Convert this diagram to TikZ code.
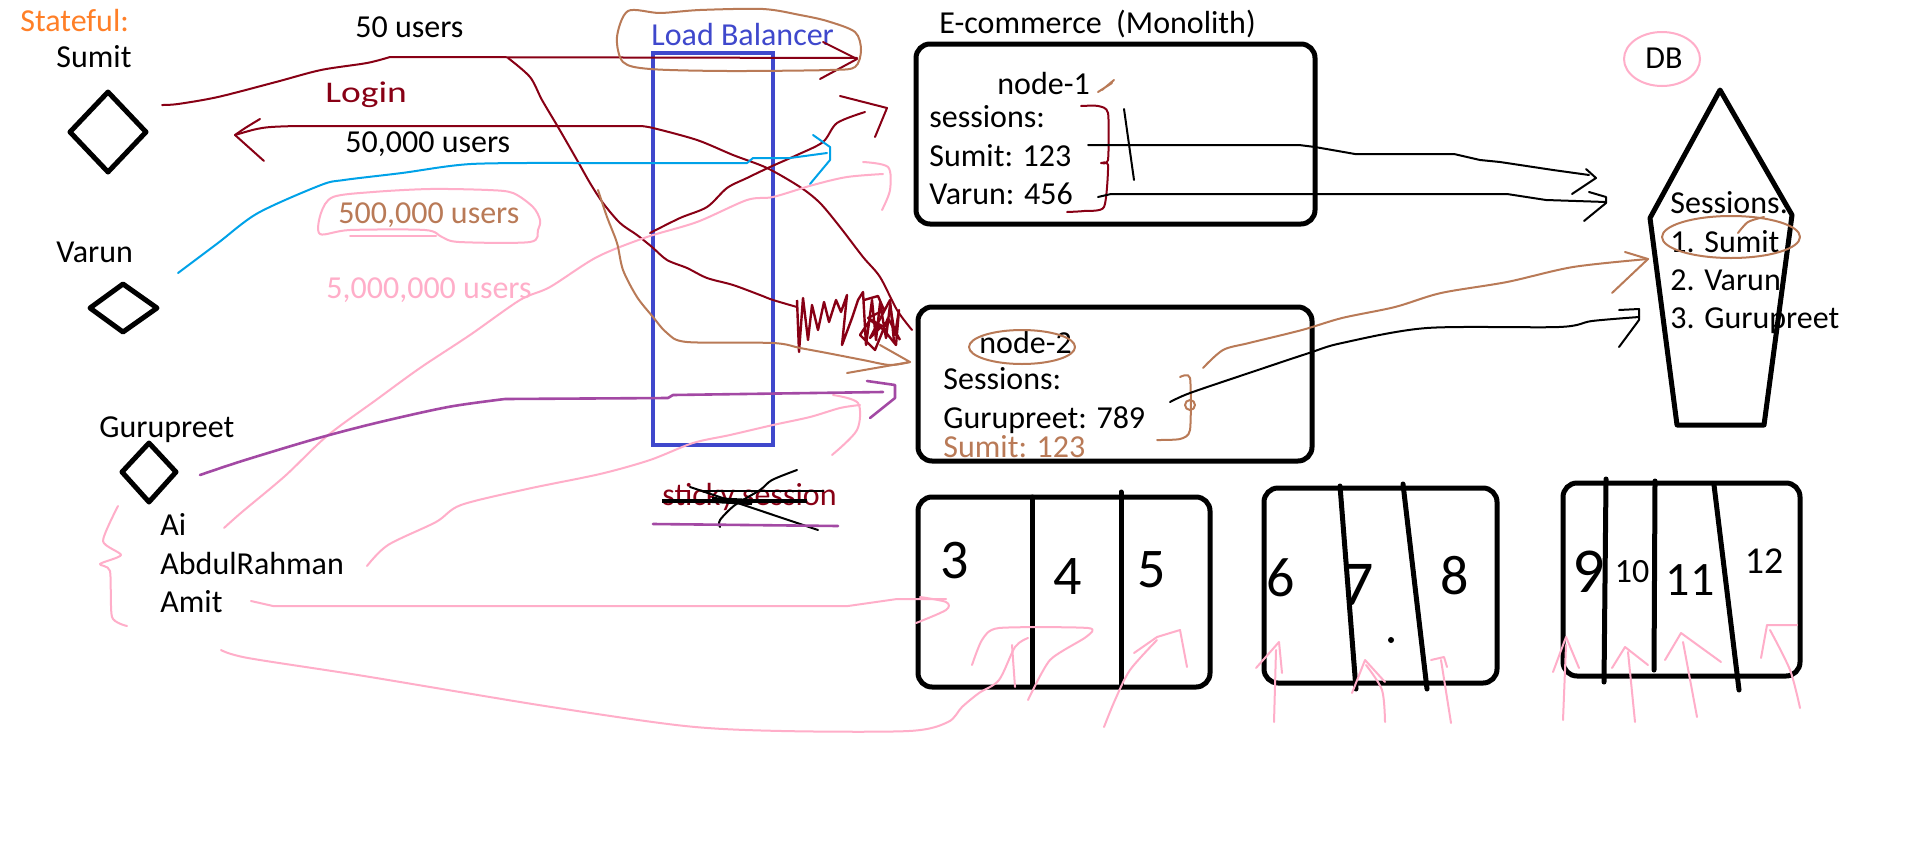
\documentclass[tikz,border=0pt]{standalone}
\usepackage{fontspec}
\setmainfont{Carlito}
\definecolor{dred}{HTML}{880015}
\definecolor{lblue}{HTML}{00A2E8}
\definecolor{pinkc}{HTML}{FFAEC9}
\definecolor{brownc}{HTML}{B97A57}
\definecolor{purp}{HTML}{A349A4}
\definecolor{indig}{HTML}{3F48CC}
\definecolor{orng}{HTML}{FF7F27}
\begin{document}
\begin{tikzpicture}[x=0.5pt,y=-0.5pt,
  txt/.style={anchor=base west,inner sep=0pt,font=\fontsize{16}{19}\selectfont},
  num/.style={anchor=center,inner sep=0pt,font=\fontsize{28}{30}\selectfont},
  pen/.style={line width=1pt,line cap=round,line join=round},
  heavybox/.style={draw,line width=2.5pt,rounded corners=7pt},
  heavy/.style={line width=2.5pt,line join=round,line cap=round}]
\useasboundingbox (0,0) rectangle (1914,867);
\fill[white] (0,0) rectangle (1914,867);

% ---------- load balancer ----------
\draw[indig,line width=2.2pt] (653,53) rectangle (773,445);

% ---------- left side users ----------
\node[txt,text=orng] (stateful) at (20,32) {Stateful:};
\node[txt] (sumit) at (56,67) {Sumit};
\node[txt] (varun) at (56,262) {Varun};
\node[txt] (guru) at (99,437) {Gurupreet};
\node[txt] (ai) at (160,535) {Ai};
\node[txt] (abdul) at (160,574) {AbdulRahman};
\node[txt] (amit) at (160,612) {Amit};
\draw[heavy] (108,92) -- (146,132) -- (108,172) -- (70,132) -- cycle;
\draw[heavy] (123,284) -- (157,308) -- (123,332) -- (90,308) -- cycle;
\draw[heavy] (149,443) -- (176,472) -- (149,502) -- (122,472) -- cycle;

\node[txt] (u50) at (355,37) {50 users};
\node[txt] (u50k) at (345,152) {50,000 users};
\node[txt,text=brownc] (u500k) at (338,223) {500,000 users};
\node[txt,text=pinkc] (u5m) at (326,298) {5,000,000 users};
\node[txt,text=indig] (lbl) at (651,45) {Load Balancer};
\node[anchor=base west,inner sep=0pt,text=dred,font=\fontsize{15}{18}\selectfont] (login) at (325,102) {\scalebox{1.25}[1]{Login}};

% ---------- monolith nodes ----------
\node[txt] (ecom) at (939,33) {E-commerce~ (Monolith)};
\draw[heavybox] (916,44) rectangle (1315,224);
\node[txt] (n1) at (997,94) {node-1};
\node[txt] (n1s) at (929,127) {sessions:};
\node[txt] (n1a) at (929,166) {Sumit: 123};
\node[txt] (n1b) at (929,204) {Varun: 456};
\draw[heavybox] (918,307) rectangle (1312,461);
\node[txt] (n2) at (979,353) {node-2};
\node[txt] (n2s) at (943,389) {Sessions:};
\node[txt] (n2a) at (943,428) {Gurupreet: 789};
\node[txt,text=brownc] (n2b) at (943,457) {Sumit: 123};

% ---------- DB ----------
\draw[heavy] (1720,90) -- (1792,215) -- (1764,425) -- (1677,425) -- (1650,218) -- cycle;
\node[txt] (db) at (1645,68) {DB};
\node[txt] (dbs) at (1670,213) {Sessions:};
\node[txt] (db1) at (1670,252) {1. Sumit};
\node[txt] (db2) at (1670,290) {2. Varun};
\node[txt] (db3) at (1670,328) {3. Gurupreet};
\draw[pen,pinkc] (1662,59) ellipse [x radius=19pt, y radius=13.5pt];

% ---------- sticky session ----------
\node[txt,text=dred] (sticky) at (662,505) {sticky session};
\draw[line width=2.2pt] (662,501) -- (807,501);
\draw[line width=1.4pt] (703,491) -- (824,491);
\draw[line width=3pt] (712,500) -- (752,502);
\draw[pen] (690,487) -- (818,530);
\draw[pen] plot[smooth,tension=0.5] coordinates {(797,470)(772,480)(760,490)(735,505)(720,520)(720,527)};
\draw[pen,purp,line width=1.3pt] (653,524) -- (838,526);

% ---------- bottom boxes ----------
\draw[heavybox] (918,497) rectangle (1210,687);
\draw[heavy] (1032,497) -- (1032,687);
\draw[heavy] (1121,492) -- (1121,687);
\node[num] (c3) at (955,561) {3};
\node[num] (c4) at (1068,577) {4};
\node[num] (c5) at (1152,570) {5};

\draw[heavybox] (1264,488) rectangle (1497,683);
\draw[heavy] (1340,486) -- (1356,689);
\draw[heavy] (1403,484) -- (1427,689);
\node[num] (c6) at (1281,578) {6};
\node[num,font=\fontsize{32}{34}\selectfont] (c7) at (1358,585) {7};
\fill (1391,640) circle (1.5pt);
\node[num] (c8) at (1455,576) {8};

\draw[heavybox] (1563,483) rectangle (1800,676);
\draw[heavy] (1606,479) -- (1604,682);
\draw[heavy] (1655,481) -- (1654,670);
\draw[heavy] (1714,485) -- (1739,690);
\node[num,font=\fontsize{32}{34}\selectfont] (c9) at (1589,572) {9};
\node[num,font=\fontsize{17}{18}\selectfont] (c10) at (1632,572) {10};
\node[num,font=\fontsize{24}{26}\selectfont] (c11) at (1690,580) {11};
\node[num,font=\fontsize{19}{20}\selectfont] (c12) at (1764,561) {12};

% ---------- dark red strokes ----------
\draw[pen,dred] plot[smooth,tension=0.5] coordinates {(162,105)(178,104)(218,97)(276,82)(321,70)(367,63)(390,57)} -- (857,58);
\draw[pen,dred] (823,42) -- (857,59) -- (820,79);
\draw[pen,dred] plot[smooth,tension=0.5] coordinates {(912,330)(897,310)(880,277)(863,257)(840,227)(820,203)(800,187)(767,168)(733,155)(697,140)(653,128)(640,126)} -- (296,126) .. controls (262,127) .. (235,135);
\draw[pen,dred] (260,119) .. controls (245,128) .. (235,135) .. controls (250,148) .. (264,161);
\draw[pen,dred] plot[smooth,tension=0.5] coordinates {(508,58)(530,77)(542,100)(558,127)(577,160)(590,183)(603,203)(620,223)(637,235)(652,247)(667,260)(687,268)(707,278)(733,285)(760,295)(773,300)(797,307)};
\draw[dred,line width=1.2pt,line join=round] (797,300)--(799,352)--(803,298)--(808,340)--(812,305)--(818,330)--(824,302)--(829,322)--(836,300)--(841,312)--(847,295)--(842,345)--(852,318)--(858,300)--(863,292)--(866,345)--(872,300)--(876,340)--(880,303)--(886,338)--(890,305)--(895,335)--(899,310)--(896,345)--(884,330)--(870,320)--(860,335)--(875,350)--(888,318)--(900,340);
\draw[dred,line width=1.2pt,line join=round] (864,300)--(878,296)--(884,310)--(868,318)--(882,326)--(870,338)--(890,300)--(894,342);
\draw[pen,dred] plot[smooth,tension=0.5] coordinates {(650,233)(680,218)(707,207)(727,188)(747,178)(770,167)(797,155)(823,142)(837,123)(865,112)};
\draw[pen,dred] (840,96) -- (887,108) -- (875,137);
% brace near node-1
\draw[pen,dred] plot[smooth,tension=0.4] coordinates {(1081,106)(1098,106)(1108,113)(1108,160)(1101,163)(1108,165)(1104,207)(1084,211)(1067,212)};

% ---------- light blue ----------
\draw[pen,lblue] plot[smooth,tension=0.5] coordinates {(178,273)(218,243)(258,213)(321,185)(344,180)(402,173)(471,164)(574,163)} -- (747,163) -- (753,158) -- (790,158) -- (827,153);
\draw[pen,lblue] (813,135) -- (830,147) -- (830,160) -- (810,184);

% ---------- pink ----------
\draw[pen,pinkc] plot[smooth cycle,tension=0.5] coordinates {(321,213)(333,197)(373,192)(430,189)(488,190)(513,193)(533,207)(540,220)(538,230)(530,242)(459,242)(442,237)(425,230)(350,230)(320,234)};
\draw[pen,pinkc] (350,236) -- (436,236);
\draw[pen,pinkc] plot[smooth,tension=0.5] coordinates {(224,528)(242,512)(285,476)(327,436)(376,400)(420,368)(470,335)(520,300)(550,287)(597,257)(647,237)(697,222)(747,200)(773,197)(813,185)(847,177)(883,174)};
\draw[pen,pinkc] plot[smooth,tension=0.5] coordinates {(863,162)(888,167)(890,190)(882,210)};
\draw[pen,pinkc] plot[smooth,tension=0.5] coordinates {(367,566)(388,545)(436,522)(461,505)(527,489)(600,474)(650,460)(693,443)(730,435)(773,425)(810,417)(840,408)(860,405)};
\draw[pen,pinkc] plot[smooth,tension=0.5] coordinates {(833,395)(858,403)(857,430)(832,455)};
\draw[pen,pinkc] (251,601) -- (273,606) -- (848,606) -- (897,599) -- (946,599);
\draw[pen,pinkc] plot[smooth,tension=0.5] coordinates {(920,597)(946,602)(946,610)(916,623)};
\draw[pen,pinkc] plot[smooth,tension=0.5] coordinates {(221,650)(248,658)(364,676)(545,706)(685,726)(782,731)(909,731)(948,722)(962,707)(979,693)(999,680)(1015,647)(1028,638)};
\draw[pen,pinkc] plot[smooth,tension=0.4] coordinates {(118,506)(103,541)(121,555)(100,564)(110,571)(112,617)(127,626)};
% pink marks in cells
\draw[pen,pinkc] plot[smooth,tension=0.4] coordinates {(972,665)(982,640)(999,628)(1088,628)(1086,637)(1050,660)(1028,700)};
\draw[pen,pinkc] (1012,645) -- (1015,687);
\draw[pen,pinkc] (1134,653) -- (1157,637) -- (1180,630) -- (1187,667);
\draw[pen,pinkc] plot[smooth,tension=0.5] coordinates {(1157,640)(1130,670)(1115,700)(1104,727)};
\draw[pen,pinkc] (1256,668) -- (1279,642) -- (1282,673);
\draw[pen,pinkc] (1276,650) -- (1274,722);
\draw[pen,pinkc] (1352,693) -- (1365,660) -- (1385,682);
\draw[pen,pinkc] plot[smooth,tension=0.5] coordinates {(1366,665)(1382,690)(1385,722)};
\draw[pen,pinkc] (1431,660) -- (1444,657) -- (1447,667);
\draw[pen,pinkc] (1441,660) -- (1451,723);
\draw[pen,pinkc] (1553,672) -- (1566,637) -- (1579,668);
\draw[pen,pinkc] (1566,645) -- (1563,720);
\draw[pen,pinkc] (1612,668) -- (1625,647) -- (1648,665);
\draw[pen,pinkc] (1628,652) -- (1635,722);
\draw[pen,pinkc] (1665,660) -- (1681,633) -- (1721,662);
\draw[pen,pinkc] (1683,642) -- (1697,717);
\draw[pen,pinkc] (1761,658) -- (1767,625) -- (1797,625);
\draw[pen,pinkc] plot[smooth,tension=0.5] coordinates {(1770,630)(1790,670)(1800,708)};

% ---------- purple ----------
\draw[pen,purp,line width=1.3pt] plot[smooth,tension=0.5] coordinates {(200,475)(242,461)(315,439)(376,423)(448,407)(505,399)} -- (668,398) -- (673,395) -- (883,392);
\draw[pen,purp,line width=1.3pt] (867,381) -- (895,385) -- (895,398) -- (870,418);

% ---------- brown ----------
\draw[pen,brownc] plot[smooth cycle,tension=0.5] coordinates {(628,11)(660,13)(700,10)(763,9)(800,15)(827,21)(855,32)(861,50)(855,67)(830,70)(727,71)(650,69)(623,62)(617,37)};
\draw[pen,brownc] plot[smooth,tension=0.5] coordinates {(598,190)(607,217)(617,243)(623,270)(637,297)(653,317)(667,333)(687,342)(773,343)(800,348)(827,353)(863,360)(890,365)(910,362)};
\draw[pen,brownc] (880,345) -- (910,362) -- (847,373);
\draw[pen,brownc] (1022,347) ellipse [x radius=26.5pt, y radius=8.5pt];
\draw[pen,brownc] (1731,237) ellipse [x radius=34.5pt, y radius=10.5pt];
\draw[pen,brownc] plot[smooth,tension=0.5] coordinates {(1738,233)(1748,222)(1764,217)};
\draw[pen,brownc] (1098,92) -- (1112,83) (1102,90) -- (1114,80);
\draw[pen,brownc] plot[smooth,tension=0.4] coordinates {(1180,377)(1190,378)(1190,430)(1180,439)(1157,440)};
\draw[pen,brownc] (1190,405) circle (2.5pt);
\draw[pen,brownc] plot[smooth,tension=0.5] coordinates {(1203,368)(1223,350)(1249,343)(1302,330)(1342,318)(1395,307)(1441,293)(1507,282)(1573,267)(1648,259)};
\draw[pen,brownc] (1625,252) -- (1648,259) -- (1612,293);

% ---------- black connectors ----------
\draw[pen] (1124,109) -- (1134,180);
\draw[pen] (1088,145) -- (1299,145) -- (1315,147) -- (1355,154) -- (1454,154) -- (1480,160) -- (1500,162) -- (1553,170) -- (1589,175);
\draw[pen] (1586,169) -- (1596,178) -- (1572,194);
\draw[pen] (1098,197) -- (1111,194) -- (1507,194) -- (1546,200) -- (1606,202);
\draw[pen] (1589,192) -- (1606,197) -- (1606,203) -- (1584,221);
\draw[pen] plot[smooth,tension=0.5] coordinates {(1170,402)(1190,393)(1249,373)(1309,353)(1342,343)(1427,328)(1559,327)(1592,321)(1639,317)};
\draw[pen] (1619,310) -- (1639,309) -- (1639,320) -- (1619,347);
\end{tikzpicture}
\end{document}
